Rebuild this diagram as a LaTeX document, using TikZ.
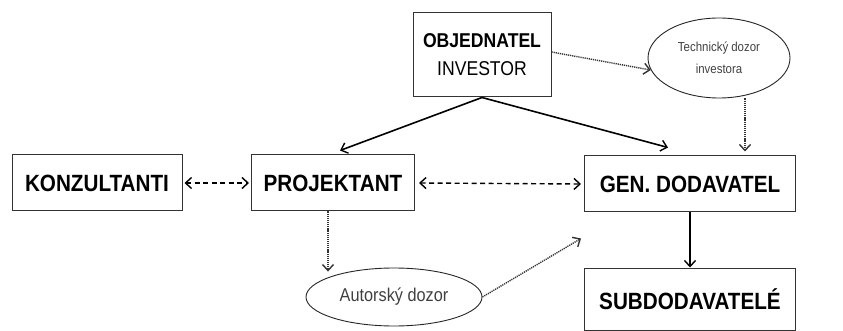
\documentclass[tikz,border=0pt]{standalone}
\usepackage{fontspec}
\usepackage{tikz}
\usetikzlibrary{arrows.meta,shapes.geometric}
\newfontfamily\narrowsans[FakeStretch=0.88]{Liberation Sans}

\begin{document}
\begin{tikzpicture}[x=1pt,y=-1pt,
                >={Straight Barb[length=6pt,width=11pt,line width=1.4pt]},
                party/.style={draw=black!80, line width=1pt, rectangle, minimum height=56pt, font=\narrowsans\fontsize{23.5}{26}\selectfont\bfseries, inner sep=0pt},
                dozor/.style={draw=black!85, line width=0.9pt, ellipse, inner sep=0pt, text=black!75, align=center},
                solidarrow/.style={->, line width=1.6pt},
                dashedarrow/.style={<->, line width=1.4pt, dash pattern=on 5pt off 3.5pt},
                dotarrow/.style={->, line width=1.4pt, black!80, dash pattern=on 1.2pt off 0.9pt}]
                \useasboundingbox (0,0) rectangle (843,331);
                \node[party, minimum width=138pt, minimum height=84pt, align=center, font=\narrowsans\fontsize{20}{28}\selectfont](objednatel) at (482,55){\textbf{OBJEDNATEL}\\INVESTOR};
                \node[dozor, minimum width=142pt, minimum height=80pt, font=\narrowsans\fontsize{13}{22}\selectfont](techdozor) at (719,58){Technický dozor\\investora};
                \node[party, minimum width=170pt](konzultanti) at (97,183){KONZULTANTI};
                \node[party, minimum width=163pt](projektant) at (333,183){PROJEKTANT};
                \node[party, minimum width=211pt](gendodavatel) at (690,184){GEN. DODAVATEL};
                \node[party, minimum width=211pt, minimum height=62pt](subdodavatele) at (690,299){SUBDODAVATELÉ};
                \node[dozor, minimum width=176pt, minimum height=58pt, font=\narrowsans\fontsize{18.5}{20}\selectfont](autdozor) at (394,297){Autorský dozor};
                \coordinate (projtop) at ([xshift=7pt,yshift=4pt]projektant.north);
                \coordinate (gentop) at ([xshift=-22pt,yshift=8pt]gendodavatel.north);
                \coordinate (gentdi) at ([xshift=55pt,yshift=4pt]gendodavatel.north);
                \coordinate (projbot) at ([xshift=-5pt]projektant.south);
                \coordinate (autin) at ([yshift=-4pt]projbot |- autdozor.north);
                \coordinate (genaut) at ([xshift=-3pt,yshift=-26pt]gendodavatel.south west);
                \path[solidarrow] (objednatel.south) edge (projtop);
                \path[solidarrow] (objednatel.south) edge (gentop);
                \path[solidarrow] (gendodavatel) edge (subdodavatele);
                \path[dashedarrow] ([xshift=2pt]konzultanti.east) edge ([xshift=-2pt]projektant.west);
                \path[dashedarrow] ([xshift=4pt]projektant.east) edge ([xshift=-3pt]gendodavatel.west);
                \path[dotarrow] ([yshift=3pt]objednatel.east) edge (techdozor.190);
                \path[dotarrow] (techdozor.south -| gentdi) edge (gentdi);
                \path[dotarrow] (projbot) edge (autin);
                \path[dotarrow] (autdozor.east) edge (genaut);
                \end{tikzpicture}
\end{document}
